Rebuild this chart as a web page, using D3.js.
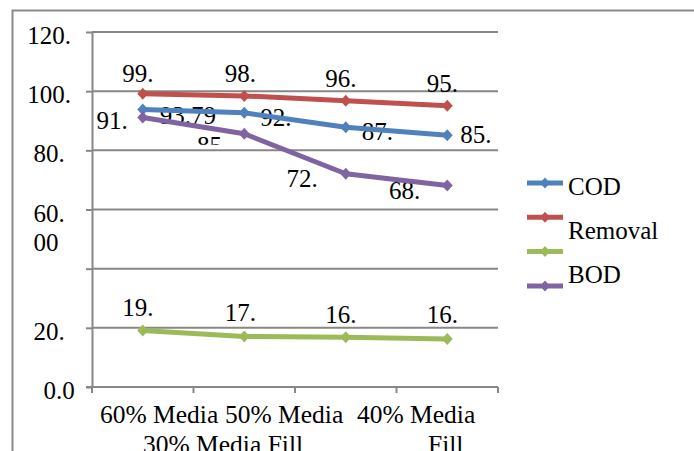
<!DOCTYPE html>
<html>
<head>
<meta charset="utf-8">
<script src="https://cdn.jsdelivr.net/npm/d3@7"></script>
<style>
  html, body { margin: 0; padding: 0; background: #fff; }
  svg { display: block; }
  svg text { font-family: "Liberation Serif", "Times New Roman", Times, serif; fill: #000; }
</style>
</head>
<body>
<svg id="chart" width="694" height="451" font-family="Liberation Serif, Times New Roman, serif"></svg>
<script>
// ---- data ----
const categories = ["60% Media Fill", "50% Media Fill", "40% Media Fill", "30% Media Fill"];
const codValues     = [93.79, 92.7, 87.8, 85.1];
const removalValues = [99.1, 98.4, 96.8, 95.1];
const greenValues   = [19.1, 17.1, 16.8, 16.2];
const bodValues     = [91.1, 85.6, 72.1, 68.1];
const seriesNames   = ["COD", "Removal", "", "BOD"];
const yTicks        = [0, 20, 40, 60, 80, 100, 120];
const yTickLabels   = ["0.0", "20.", "", "60.\n00", "80.", "100.", "120."];
const xLabelRows    = [["60% Media", "50% Media", "40% Media"], ["30% Media Fill", "Fill"]];

// ---- layout ----
const W = 694, H = 451;
const plot = { left: 92, right: 498, top: 32, bottom: 387 };
const fontSize = 25;
const gridColor = "#878787";

const svg = d3.select("#chart");

const x = d3.scaleBand().domain(categories).range([plot.left, plot.right]).padding(0);
const y = d3.scaleLinear().domain([0, 120]).range([plot.bottom, plot.top]);
const cx = c => x(c) + x.bandwidth() / 2;

// outer chart frame (runs past the right and bottom edges)
svg.append("rect")
  .attr("x", 12.5).attr("y", 10.5)
  .attr("width", W + 20).attr("height", H + 20)
  .attr("fill", "none").attr("stroke", "#8a8a8a").attr("stroke-width", 2);

// horizontal gridlines
svg.append("g").selectAll("line").data(yTicks.filter(t => t > 0)).join("line")
  .attr("x1", plot.left).attr("x2", plot.right)
  .attr("y1", d => y(d)).attr("y2", d => y(d))
  .attr("stroke", gridColor).attr("stroke-width", 2);

// y axis with outward ticks
const yAxis = svg.append("g").attr("transform", `translate(${plot.left},0)`)
  .call(d3.axisLeft(y).tickValues(yTicks).tickSize(6).tickSizeOuter(0).tickFormat(""));
yAxis.selectAll("path, line").attr("stroke", gridColor).attr("stroke-width", 2);

// x axis: baseline plus ticks on category boundaries
const xg = svg.append("g");
xg.append("line")
  .attr("x1", plot.left - 6).attr("x2", plot.right)
  .attr("y1", plot.bottom).attr("y2", plot.bottom)
  .attr("stroke", gridColor).attr("stroke-width", 2);
const boundaries = categories.map(c => x(c)).concat([x(categories[categories.length - 1]) + x.bandwidth()]);
xg.selectAll("line.tick").data(boundaries).join("line").attr("class", "tick")
  .attr("x1", d => d).attr("x2", d => d)
  .attr("y1", plot.bottom).attr("y2", plot.bottom + 6)
  .attr("stroke", gridColor).attr("stroke-width", 2);

// y tick labels (wrapped number boxes)
yTicks.forEach((t, i) => {
  const lines = yTickLabels[i].split("\n");
  if (!lines[0]) return;
  const tx = t === 0 ? 59 : 49;
  const txt = svg.append("text")
    .attr("x", tx).attr("y", y(t) + 12)
    .attr("text-anchor", "middle").attr("font-size", fontSize);
  lines.forEach((ln, k) => {
    txt.append("tspan").attr("x", k === 0 ? tx : tx - 3).attr("dy", k === 0 ? 0 : 29).text(ln);
  });
});

// category labels, wrapped across two rows
const rowX = [[100, 225, 357], [143, 428]];
xLabelRows.forEach((row, r) => {
  row.forEach((s, k) => {
    svg.append("text")
      .attr("x", rowX[r][k]).attr("y", 423 + r * 30)
      .attr("font-size", 25.5).text(s);
  });
});

// ---- series ----
const diamond = (w, h) => `M0,${-h / 2}L${w / 2},0L0,${h / 2}L${-w / 2},0Z`;

const series = [
  { name: seriesNames[0], values: codValues, color: "#4F81BD",
    place: [{ a: "start", dx: 17, dy: 14, full: true }, { a: "start", dx: 16, dy: 13 },
            { a: "start", dx: 16, dy: 13 }, { a: "start", dx: 13, dy: 8 }] },
  { name: seriesNames[1], values: removalValues, color: "#C0504D",
    place: [{ a: "middle", dx: -5, dy: -12 }, { a: "middle", dx: -4, dy: -14 },
            { a: "middle", dx: -5, dy: -14 }, { a: "middle", dx: -5, dy: -14 }] },
  { name: seriesNames[2], values: greenValues, color: "#9BBB59",
    place: [{ a: "middle", dx: -5, dy: -14 }, { a: "middle", dx: -4, dy: -15 },
            { a: "middle", dx: -5, dy: -14 }, { a: "middle", dx: -5, dy: -16 }] },
  { name: seriesNames[3], values: bodValues, color: "#8064A2",
    place: [{ a: "end", dx: -15, dy: 12 }, { a: "end", dx: -16, dy: 20, cut: 9 },
            { a: "end", dx: -28, dy: 13 }, { a: "end", dx: -27, dy: 13 }] }
];

const line = d3.line().x((d, i) => cx(categories[i])).y(d => y(d));

const labelLayer = svg.append("g");
const markLayer = svg.append("g");
const defs = svg.append("defs");
let clipId = 0;

series.forEach(s => {
  markLayer.append("path")
    .attr("d", line(s.values))
    .attr("fill", "none").attr("stroke", s.color)
    .attr("stroke-width", 5).attr("stroke-linejoin", "round");
  markLayer.selectAll(null).data(s.values).join("path")
    .attr("transform", (d, i) => `translate(${cx(categories[i])},${y(d)})`)
    .attr("d", diamond(11, 12)).attr("fill", s.color);

  s.values.forEach((v, i) => {
    const p = s.place[i];
    const px = cx(categories[i]) + p.dx;
    const py = y(v) + p.dy;
    const label = p.full ? v.toFixed(2) : Math.trunc(v) + ".";
    const t = labelLayer.append("text")
      .attr("x", px).attr("y", py)
      .attr("text-anchor", p.a).attr("font-size", fontSize)
      .text(label);
    if (p.cut) {
      const id = "lblclip" + (clipId++);
      defs.append("clipPath").attr("id", id).append("rect")
        .attr("x", 0).attr("y", py - 40).attr("width", W).attr("height", 40 - p.cut);
      t.attr("clip-path", `url(#${id})`);
    }
  });
});

// ---- legend ----
const legend = svg.append("g");
const swatchY0 = 183, swatchStep = 34.3;
series.forEach((s, i) => {
  const sy = swatchY0 + i * swatchStep;
  legend.append("line")
    .attr("x1", 527).attr("x2", 563).attr("y1", sy).attr("y2", sy)
    .attr("stroke", s.color).attr("stroke-width", 5);
  legend.append("path")
    .attr("transform", `translate(545,${sy})`)
    .attr("d", diamond(10, 11)).attr("fill", s.color);
});
// legend names flow in their own rows
seriesNames.filter(n => n).forEach((n, r) => {
  legend.append("text")
    .attr("x", 568).attr("y", 195 + r * 44)
    .attr("font-size", fontSize).text(n);
});
</script>
</body>
</html>
